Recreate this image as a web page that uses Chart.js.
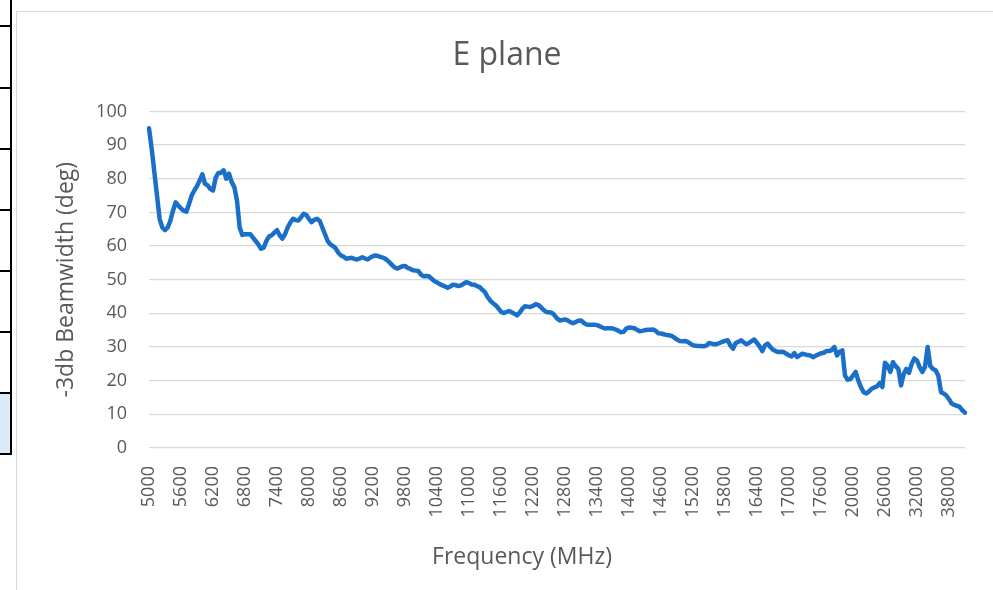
<!DOCTYPE html>
<html>
<head>
<meta charset="utf-8">
<title>E plane</title>
<script src="https://cdn.jsdelivr.net/npm/chart.js@4.4.1/dist/chart.umd.min.js"></script>
<style>
  html, body { margin: 0; padding: 0; background: #fff; }
  body { width: 993px; height: 590px; position: relative; overflow: hidden; }
  /* worksheet cells peeking out on the left */
  .sheet-v { position: absolute; left: 10px; top: 0; width: 2px; height: 455px; background: #000; }
  .sheet-h { position: absolute; left: 0; width: 12px; height: 2px; background: #000; }
  .sheet-cell { position: absolute; left: 0; top: 394px; width: 10px; height: 59px; background: #ddebf7; }
  .chart-box { position: absolute; left: 16px; top: 11px; width: 1000px; height: 620px;
               border: 1px solid #d9d9d9; box-sizing: border-box; background: #fff; }
  .chart-wrap { position: absolute; left: 17px; top: 12px; width: 976px; height: 578px; }
</style>
</head>
<body>
<div class="sheet-cell"></div>
<div class="sheet-v"></div>
<div class="sheet-h" style="top:25px"></div>
<div class="sheet-h" style="top:87px"></div>
<div class="sheet-h" style="top:148px"></div>
<div class="sheet-h" style="top:209px"></div>
<div class="sheet-h" style="top:270px"></div>
<div class="sheet-h" style="top:331px"></div>
<div class="sheet-h" style="top:392px"></div>
<div class="sheet-h" style="top:453px"></div>
<div class="chart-box"></div>
<div class="chart-wrap"><canvas id="beamChart"></canvas></div>
<script>
// frequency sweep: 50 MHz steps up to 18 GHz, then 500 MHz steps
const freqSegments = [
  [5000, 18000, 50],
  [18500, 41000, 500]
];

// -3 dB beamwidth (deg), 5000 - 18000 MHz
const beamwidthLow = [
  95, 89, 82, 75, 68, 65.5, 64.7, 65.5, 67.5, 70.5,
  73, 72, 71.2, 70.5, 70.2, 72.5, 75, 76.5, 77.8, 79.5,
  81.3, 78.5, 78, 77, 76.5, 80.3, 81.7, 81.8, 82.5, 80,
  81.5, 79, 77.5, 73.5, 65.5, 63.3, 63.5, 63.5, 63.5, 62.5,
  61.5, 60.5, 59.2, 59.5, 61.5, 62.8, 63.2, 64, 64.7, 63.2,
  62.2, 63.5, 65.5, 67, 68.1, 67.7, 67.6, 68.5, 69.6, 69.2,
  68, 67.1, 67.8, 68.1, 67.5, 65.5, 63.5, 61.5, 60.5, 60,
  59.3, 58, 57.2, 56.8, 56.2, 56.4, 56.5, 56.2, 56, 56.3,
  56.7, 56.3, 56, 56.6, 57, 57.2, 57, 56.7, 56.5, 56,
  55.3, 54.5, 53.7, 53.3, 53.6, 54, 54.1, 53.5, 53.2, 52.8,
  52.7, 52.6, 51.5, 51, 51.1, 51, 50.3, 49.6, 49.2, 48.7,
  48.3, 48, 47.6, 48, 48.5, 48.4, 48.1, 48.3, 48.8, 49.3,
  49, 48.6, 48.5, 48.1, 47.8, 47, 46.3, 44.8, 43.8, 43,
  42.4, 41.5, 40.5, 40.1, 40.4, 40.7, 40.3, 39.9, 39.4, 40.2,
  41.4, 42.1, 42, 41.9, 42.2, 42.7, 42.5, 41.8, 41, 40.4,
  40.3, 40.2, 39.5, 38.5, 37.9, 38, 38.2, 37.9, 37.4, 37.1,
  37.4, 37.8, 37.9, 37.2, 36.7, 36.6, 36.6, 36.6, 36.5, 36.2,
  35.8, 35.5, 35.6, 35.6, 35.5, 35.2, 34.8, 34.4, 34.5, 35.5,
  35.8, 35.7, 35.6, 35.1, 34.7, 34.8, 35, 35.1, 35.1, 35.2,
  34.8, 34.1, 34, 33.8, 33.6, 33.5, 33.3, 32.8, 32.2, 31.8,
  31.7, 31.8, 31.5, 31, 30.5, 30.4, 30.3, 30.3, 30.2, 30.4,
  31.2, 31, 30.8, 30.9, 31.2, 31.5, 31.8, 32, 30.5, 29.5,
  31.2, 31.5, 32, 31.4, 30.8, 31.2, 31.8, 32.2, 31.2, 30.2,
  28.8, 30.5, 31, 30, 29.2, 28.8, 28.5, 28.6, 28.5, 28,
  27.5, 27.2, 28.2, 27, 27.5, 28, 27.8, 27.6, 27.5, 27,
  27.4, 27.8, 28.1, 28.3, 28.8, 28.8, 29.1, 30, 27.5, 28.6,
  29
];

// -3 dB beamwidth (deg), 18500 - 41000 MHz
const beamwidthHigh = [
  21.5, 20.3, 20.5, 21.5, 22.6, 20, 18, 16.6, 16.2, 16.8,
  17.6, 18, 18.3, 19.3, 18.1, 25.3, 24.5, 22.6, 25.5, 24.3,
  23.5, 18.6, 22, 23.5, 22.3, 25, 26.6, 26, 24, 22.6,
  24.1, 30, 24.3, 23.5, 23.1, 21.5, 16.6, 16.2, 15.6, 14.5,
  13.2, 12.8, 12.5, 12.2, 11.2, 10.5
];

const labelEvery = 12; // one axis label per 600 MHz in the dense part

const frequencies = [];
freqSegments.forEach(([from, to, step]) => {
  for (let f = from; f <= to; f += step) frequencies.push(String(f));
});
const beamwidth = beamwidthLow.concat(beamwidthHigh);

const grey = '#595959';
const fontFamily = "'Open Sans', 'Noto Sans', sans-serif";

// x axis caption sits a little left of the plot centre, so it is drawn by hand
const xCaption = {
  id: 'xCaption',
  afterDraw(chart, args, opts) {
    const { ctx, chartArea } = chart;
    ctx.save();
    ctx.font = opts.size + 'px ' + fontFamily;
    ctx.fillStyle = grey;
    ctx.textAlign = 'center';
    ctx.textBaseline = 'middle';
    ctx.fillText(opts.text, chartArea.left + opts.dx, chartArea.bottom + opts.dy);
    ctx.restore();
  }
};

new Chart(document.getElementById('beamChart'), {
  type: 'line',
  data: {
    labels: frequencies,
    datasets: [{
      data: beamwidth,
      borderColor: '#1a70c8',
      borderWidth: 4.5,
      pointRadius: 0,
      tension: 0,
      borderJoinStyle: 'round',
      borderCapStyle: 'round',
      fill: false
    }]
  },
  options: {
    responsive: true,
    maintainAspectRatio: false,
    animation: false,
    layout: { padding: { left: 32, right: 28, top: 0, bottom: 16 } },
    plugins: {
      legend: { display: false },
      tooltip: { enabled: false },
      title: {
        display: true,
        text: 'E plane',
        color: grey,
        font: { family: fontFamily, size: 32, weight: 'normal' },
        padding: { top: 25, bottom: 36 }
      },
      xCaption: { text: 'Frequency (MHz)', size: 23, dx: 373, dy: 109 }
    },
    scales: {
      x: {
        afterFit: (scale) => { scale.height = 126; },
        grid: { display: false },
        border: { display: false },
        ticks: {
          autoSkip: false,
          maxRotation: 90,
          minRotation: 90,
          padding: 10,
          color: grey,
          font: { family: fontFamily, size: 18 },
          callback: (value, index) => (index % labelEvery === 0 ? frequencies[index] : null)
        }
      },
      y: {
        min: 0,
        max: 100,
        afterFit: (scale) => { scale.width = 100; },
        grid: { color: '#d9d9d9', lineWidth: 1.3, drawTicks: false },
        border: { display: false },
        ticks: {
          stepSize: 10,
          padding: 22,
          color: grey,
          font: { family: fontFamily, size: 18 }
        },
        title: {
          display: true,
          text: '-3db Beamwidth (deg)',
          color: grey,
          font: { family: fontFamily, size: 23 }
        }
      }
    }
  },
  plugins: [xCaption]
});
</script>
</body>
</html>
